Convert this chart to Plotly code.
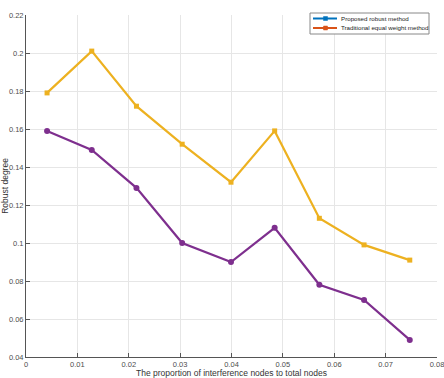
import plotly.graph_objects as go

x_vals = [0.0041, 0.0128, 0.0215, 0.0304, 0.0399, 0.0484, 0.0571, 0.0658, 0.0747]
traditional = [0.179, 0.201, 0.172, 0.152, 0.132, 0.159, 0.113, 0.099, 0.091]
proposed = [0.159, 0.149, 0.129, 0.100, 0.090, 0.108, 0.078, 0.070, 0.049]
legend_names = ["Proposed robust method", "Traditional equal weight method"]
legend_colors = ["#0072BD", "#D95319"]
x_ticks = [0, 0.01, 0.02, 0.03, 0.04, 0.05, 0.06, 0.07, 0.08]
x_ticktext = ["0", "0.01", "0.02", "0.03", "0.04", "0.05", "0.06", "0.07", "0.08"]
y_ticks = [0.04, 0.06, 0.08, 0.1, 0.12, 0.14, 0.16, 0.18, 0.2, 0.22]
y_ticktext = ["0.04", "0.06", "0.08", "0.1", "0.12", "0.14", "0.16", "0.18", "0.2", "0.22"]

W, H = 444, 378
ML, MR, MT, MB = 26, 7, 15, 21
PW, PH = W - ML - MR, H - MT - MB


def px_x(p):
    return (p - ML) / PW


def px_y(p):
    return (H - MB - p) / PH


fig = go.Figure()
fig.add_trace(go.Scatter(x=x_vals, y=traditional, mode="lines+markers", showlegend=False,
                         line=dict(color="#EDB120", width=2.2),
                         marker=dict(symbol="square", size=5, color="#EDB120")))
fig.add_trace(go.Scatter(x=x_vals, y=proposed, mode="lines+markers", showlegend=False,
                         line=dict(color="#7E2F8E", width=2.2),
                         marker=dict(symbol="circle", size=6, color="#7E2F8E")))

# legend drawn as shapes + text (compact MATLAB-style box)
shapes = [dict(type="rect", xref="paper", yref="paper",
               x0=px_x(310), x1=px_x(429), y0=px_y(34), y1=px_y(13),
               fillcolor="white", line=dict(color="#888", width=1), layer="above")]
annotations = []
for i, (name, col) in enumerate(zip(legend_names, legend_colors)):
    yy = 18.5 + i * 9.5
    shapes.append(dict(type="line", xref="paper", yref="paper",
                       x0=px_x(313), x1=px_x(337), y0=px_y(yy), y1=px_y(yy),
                       line=dict(color=col, width=2), layer="above"))
    shapes.append(dict(type="rect", xref="paper", yref="paper",
                       x0=px_x(323.5), x1=px_x(327.5), y0=px_y(yy + 2), y1=px_y(yy - 2),
                       fillcolor=col, line=dict(color=col, width=0.5), layer="above"))
    annotations.append(dict(text=name, xref="paper", yref="paper",
                            x=px_x(339), y=px_y(yy), xanchor="left", yanchor="middle",
                            showarrow=False,
                            font=dict(family="Liberation Sans, Arial, sans-serif",
                                      size=6.2, color="#222")))

axis_font = dict(family="Liberation Sans, Arial, sans-serif", size=7.5, color="#4d4d4d")
fig.update_layout(
    width=W, height=H,
    margin=dict(l=ML, r=MR, t=MT, b=MB),
    paper_bgcolor="white", plot_bgcolor="white",
    font=dict(family="Liberation Sans, Arial, sans-serif", size=8, color="#333"),
    showlegend=False,
    shapes=shapes, annotations=annotations,
    xaxis=dict(range=[0, 0.0800001], tickvals=x_ticks, ticktext=x_ticktext,
               showgrid=True, gridcolor="#e6e6e6", gridwidth=1,
               showline=True, linecolor="#555", linewidth=1,
               ticks="inside", ticklen=4, tickcolor="#555",
               tickfont=axis_font, zeroline=False, automargin=False,
               ticklabeloverflow="allow",
               title=dict(text="The proportion of interference nodes to total nodes",
                          font=dict(size=8.5, color="#333"), standoff=4)),
    yaxis=dict(range=[0.04, 0.2200001], tickvals=y_ticks, ticktext=y_ticktext,
               showgrid=True, gridcolor="#e6e6e6", gridwidth=1,
               showline=True, linecolor="#555", linewidth=1,
               ticks="inside", ticklen=4, tickcolor="#555",
               tickfont=axis_font, zeroline=False, automargin=False,
               ticklabeloverflow="allow",
               title=dict(text="Robust degree", font=dict(size=8.5, color="#333"), standoff=2)),
)
fig.write_html("out.html")
